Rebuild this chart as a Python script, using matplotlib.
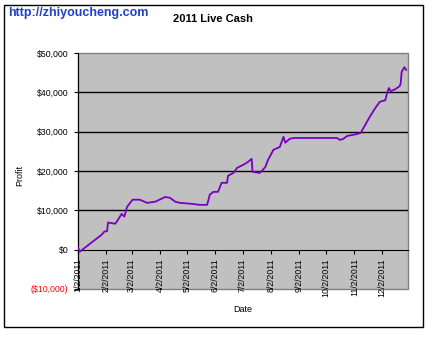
import matplotlib
matplotlib.use('Agg')
import matplotlib.pyplot as plt
import matplotlib.dates as mdates
from matplotlib.patches import Rectangle
from matplotlib.ticker import FuncFormatter
import datetime as dt

# readings (date, cumulative profit)
dates = ['2011-01-02', '2011-01-04', '2011-01-28', '2011-01-31', '2011-02-03', '2011-02-04',
         '2011-02-12', '2011-02-15', '2011-02-19', '2011-02-22', '2011-02-25', '2011-03-03',
         '2011-03-11', '2011-03-19', '2011-03-28', '2011-04-08', '2011-04-13', '2011-04-19',
         '2011-04-24', '2011-05-05', '2011-05-16', '2011-05-24', '2011-05-27', '2011-05-31',
         '2011-06-05', '2011-06-09', '2011-06-15', '2011-06-16', '2011-06-22', '2011-06-26',
         '2011-07-03', '2011-07-08', '2011-07-12', '2011-07-13', '2011-07-21', '2011-07-27',
         '2011-07-30', '2011-08-05', '2011-08-12', '2011-08-16', '2011-08-18', '2011-08-23',
         '2011-08-28', '2011-10-14', '2011-10-17', '2011-10-21', '2011-10-25', '2011-11-05',
         '2011-11-09', '2011-11-19', '2011-11-25', '2011-11-30', '2011-12-06', '2011-12-08',
         '2011-12-10', '2011-12-12', '2011-12-17', '2011-12-22', '2011-12-23', '2011-12-24',
         '2011-12-27', '2011-12-29']
profit = [500, -500, 3800, 4600, 4700, 6900,
          6600, 7600, 9100, 8400, 10900, 12700,
          12700, 11900, 12200, 13400, 13200, 12200,
          11900, 11700, 11400, 11400, 14000, 14700,
          14700, 17000, 17000, 18800, 19500, 20800,
          21600, 22300, 23100, 19800, 19500, 21000,
          22800, 25400, 26100, 28700, 27200, 28200,
          28400, 28400, 27900, 28200, 28900, 29400,
          29700, 33800, 36000, 37600, 38000, 39800,
          41100, 40300, 40800, 41600, 42400, 45200,
          46400, 45700]
tick_dates = ['2011-%02d-02' % m for m in range(1, 13)]
y_ticks = [-10000, 0, 10000, 20000, 30000, 40000, 50000]

font = 'Liberation Sans'
x = [dt.datetime.strptime(d, '%Y-%m-%d') for d in dates]
xt = [dt.datetime.strptime(d, '%Y-%m-%d') for d in tick_dates]

fig = plt.figure(figsize=(4.42, 3.51), dpi=100)
ax = fig.add_axes([78/442, 1 - 289/351, 330/442, 236/351])
ax.set_facecolor('#C0C0C0')
ax.patch.set_edgecolor('#808080')
ax.patch.set_linewidth(1)

for v in y_ticks[2:-1]:
    ax.axhline(v, color='black', lw=1, zorder=1)

ax.plot(x, profit, color='#7A00C0', lw=1.3, zorder=3)

ax.set_xlim(dt.datetime(2011, 1, 2), dt.datetime(2011, 12, 31))
ax.set_ylim(-10000, 50000)

for s in ['top', 'right']:
    ax.spines[s].set_visible(False)
ax.spines['bottom'].set_position(('data', 0))
ax.spines['left'].set_color('black')

ax.set_yticks(y_ticks)
ax.yaxis.set_major_formatter(FuncFormatter(
    lambda v, p: '$%s' % format(int(v), ',') if v >= 0 else '($%s)' % format(int(-v), ',')))
ax.set_xticks(xt)
ax.xaxis.set_major_formatter(FuncFormatter(
    lambda v, p: '%d/%d/%d' % (mdates.num2date(v).month, mdates.num2date(v).day, mdates.num2date(v).year)))
ax.tick_params(axis='x', rotation=90, length=3, pad=3, labelsize=6.3, direction='out')
ax.tick_params(axis='y', length=3, pad=4, labelsize=6.3, direction='out')
for lab in ax.get_xticklabels() + ax.get_yticklabels():
    lab.set_fontfamily(font)
ax.get_yticklabels()[0].set_color('#FF0000')

fig.text(20/442, 1 - 175/351, 'Profit', rotation=90, ha='center', va='center',
         fontsize=6.5, family=font)
fig.text(243/442, 1 - 310/351, 'Date', ha='center', va='center', fontsize=6.5, family=font)
fig.text(213/442, 1 - 19/351, '2011 Live Cash', ha='center', va='center',
         fontsize=8, fontweight='bold', family=font)
fig.text(8/442, 1 - 13/351, 'http://zhiyoucheng.com', ha='left', va='center',
         fontsize=9, fontweight='bold', color='#2040C8', family=font)

fig.patches.append(Rectangle((4/442, 1 - 327/351), 419/442, 322/351, transform=fig.transFigure,
                             fill=False, edgecolor='black', lw=1))

fig.savefig('out.png', dpi=100)
